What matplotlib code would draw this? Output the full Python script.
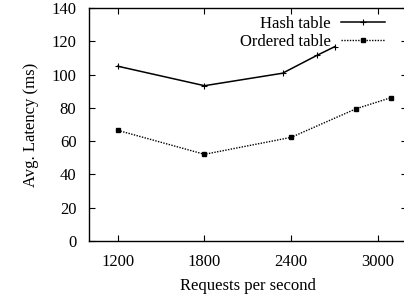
import matplotlib.pyplot as plt

plt.rcParams['font.family'] = ['Liberation Serif', 'DejaVu Serif']

# Hash table
hash_x = [1200, 1800, 2340, 2580, 2700]
hash_y = [105, 93.3, 100.8, 111.6, 116.7]

# Ordered table
ord_x = [1200, 1800, 2400, 2850, 3090]
ord_y = [66.5, 52.1, 62.3, 79.5, 86.1]

xticks = [1200, 1800, 2400, 3000]
yticks = [0, 20, 40, 60, 80, 100, 120, 140]

fig = plt.figure(figsize=(4.04, 2.94), dpi=100)
ax = fig.add_axes([0.22, 0.18, 0.787, 0.793])

ax.plot(hash_x, hash_y, color='black', lw=1.1, marker='+', ms=4, mew=0.8,
        label='Hash table')
ax.plot(ord_x, ord_y, color='black', lw=1.0, ls=(0, (1, 1)), marker='s', ms=2.5,
        label='Ordered table')

ax.set_xlim(1000, 3200)
ax.set_ylim(0, 140)
ax.set_xticks(xticks)
ax.set_yticks(yticks)
ax.tick_params(direction='in', top=True, right=True, labelsize=12, length=4, pad=9)
for s in ax.spines.values():
    s.set_linewidth(1.0)

ax.set_xlabel('Requests per second', fontsize=12, labelpad=6)
ax.set_ylabel('Avg. Latency (ms)', fontsize=12, labelpad=9)

ax.legend(loc='upper right', frameon=False, fontsize=12, markerfirst=False,
          handlelength=2.65, handletextpad=0.6, borderaxespad=0.1, labelspacing=0.15,
          bbox_to_anchor=(0.957, 1.003))

fig.savefig('out.png', dpi=100)
